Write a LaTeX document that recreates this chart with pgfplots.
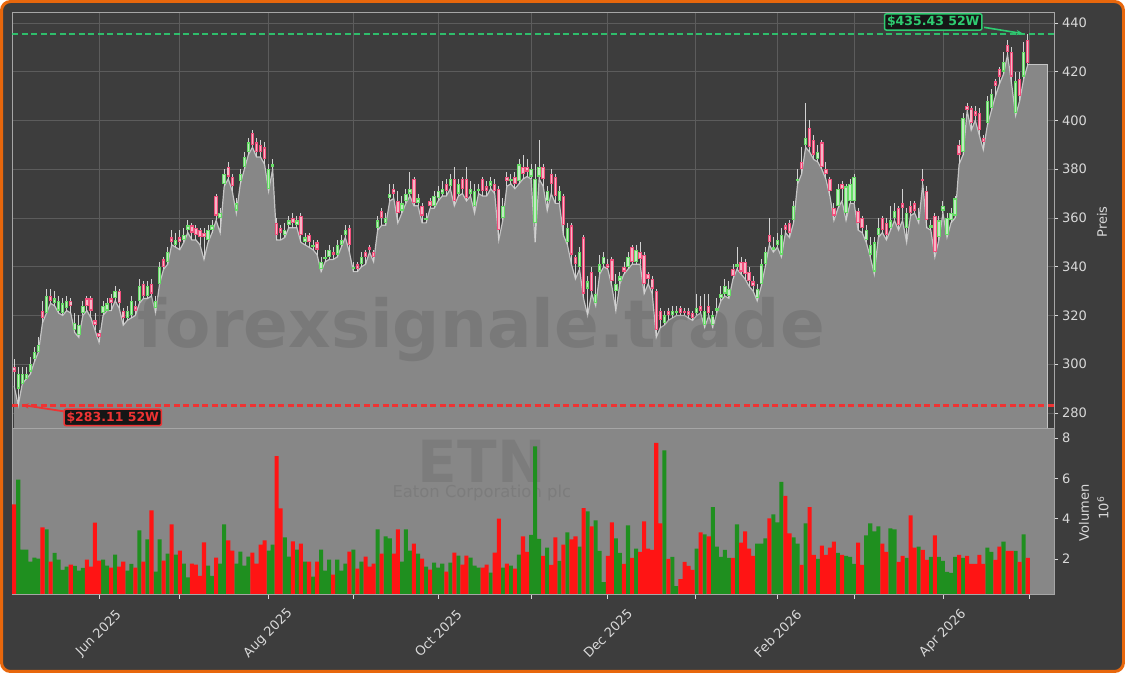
\documentclass[border=0pt]{standalone}
\usepackage{pgfplots}
\pgfplotsset{compat=1.18}
\usepackage{pgfplotstable}
\usetikzlibrary{arrows.meta}
\usepackage{fontspec}
\setmainfont{DejaVu Sans}

\definecolor{bgdark}{HTML}{3D3D3D}
\definecolor{gridcol}{HTML}{5C5C5C}
\definecolor{areacol}{HTML}{878787}
\definecolor{arealine}{HTML}{C4C4C4}
\definecolor{wickcol}{HTML}{D2D2D2}
\definecolor{upedge}{HTML}{66DC66}
\definecolor{upfill}{HTML}{C2EAC2}
\definecolor{dnedge}{HTML}{F24F7C}
\definecolor{dnfill}{HTML}{F5B6C6}
\definecolor{vgreen}{HTML}{1F8F1F}
\definecolor{vred}{HTML}{FF1414}
\definecolor{higreen}{HTML}{2ECC71}
\definecolor{lored}{HTML}{EE3333}
\definecolor{tickcol}{HTML}{D9D9D9}
\definecolor{framecol}{HTML}{A6A6A6}
\definecolor{brdorange}{HTML}{E8670C}
\definecolor{boxfill}{HTML}{161616}

% i = trading day (0 = 1 May 2025), l h o c in USD, v in millions, d = 1 up / 0 down
\pgfplotstableread{
i l o c h v d
0 291 299 297 302 4.71 0
1 283.11 290 296 299 5.94 1
2 292 292 296 299 2.47 1
3 294 294 296 299 2.47 1
4 296 297 300 303 1.87 1
5 301 302 305 307 2.07 1
6 305 305 308 311 2.02 1
7 317 322 319 326 3.57 0
8 321 321 328 331 3.47 1
9 325 328 326 331 1.87 0
10 324 325 327 330 2.31 1
11 321 322 326 328 1.97 1
12 320 321 325 327 1.46 1
13 322 323 326 328 1.62 1
14 321 326 324 327 1.72 0
15 313 314 317 321 1.66 1
16 311 312 316 320 1.42 1
17 320 321 324 326 1.56 1
18 322 327 324 328 1.97 0
19 319 327 322 328 1.62 0
20 314 318 316 321 3.81 0
21 309 313 311 314 1.92 0
22 320 321 324 326 1.97 1
23 322 322 325 327 1.67 1
24 322 327 325 329 1.57 0
25 326 327 330 332 2.22 1
26 323 330 325 331 1.62 0
27 316 322 319 323 1.87 0
28 318 319 322 324 1.42 1
29 319 320 326 328 1.76 1
30 320 324 322 326 1.57 0
31 325 326 332 335 3.42 1
32 327 333 328 334 1.87 0
33 327 328 332 334 2.97 1
34 328 333 329 335 4.41 0
35 321 323 326 328 1.37 1
36 333 333 340 342 2.97 1
37 339 343 340 344 1.92 0
38 341 342 346 348 2.27 1
39 349 352 350 355 3.72 0
40 348 349 351 354 2.22 1
41 347 352 350 355 2.42 0
42 350 351 353 356 1.77 1
43 354 355 357 359 1.09 1
44 351 357 354 358 1.77 0
45 351 356 353 357 1.72 0
46 349 355 352 356 1.17 0
47 343 354 352 356 2.82 0
48 350 351 355 357 1.67 1
49 354 355 357 359 1.17 1
50 359 369 361 370 2.07 0
51 354 360 362 364 1.77 1
52 373 374 378 380 3.72 1
53 376 381 377 383 2.92 0
54 371 377 373 378 2.42 0
55 362 363 366 368 1.77 1
56 374 375 378 380 2.37 1
57 380 381 385 387 1.67 1
58 386 387 391 393 2.12 1
59 389 395 390 396 2.32 0
60 385 391 387 393 1.77 0
61 385 390 387 392 2.72 0
62 382 389 384 391 2.92 0
63 371 372 380 382 2.42 1
64 380 381 382 384 2.72 1
65 351 358 353 360 7.10 0
66 351 356 354 357 4.51 0
67 352 353 355 358 3.07 1
68 356 357 359 361 2.12 1
69 356 360 358 362 2.87 0
70 356 357 359 361 2.47 1
71 350 361 353 362 2.77 0
72 349 350 352 354 1.87 1
73 348 353 350 354 1.87 0
74 347 348 349 351 1.13 1
75 345 350 347 351 1.87 0
76 338 339 342 344 2.47 1
77 342 343 344 347 1.42 1
78 343 344 347 349 1.97 1
79 343 346 345 348 1.23 0
80 344 345 349 351 1.97 1
81 348 349 351 353 1.42 1
82 352 353 355 357 1.77 1
83 346 356 349 357 2.37 0
84 338 339 340 342 2.47 1
85 338 341 339 342 1.53 0
86 340 341 344 346 1.87 1
87 341 346 344 347 2.12 0
88 346 348 347 349 1.62 0
89 342 346 344 347 1.77 0
90 355 356 359 361 3.47 1
91 357 363 360 364 2.27 0
92 357 358 360 362 3.12 1
93 367 368 370 374 3.02 1
94 368 372 370 374 2.27 0
95 358 367 362 371 3.47 0
96 362 363 366 369 1.87 1
97 366 367 370 372 3.47 1
98 369 370 372 379 2.42 1
99 365 376 366 377 2.77 0
100 365 366 368 370 2.27 1
101 358 365 361 366 2.02 0
102 358 359 360 362 1.62 1
103 364 367 365 368 1.48 0
104 364 365 369 371 1.82 1
105 367 368 371 373 1.57 1
106 369 370 372 375 1.77 1
107 369 374 371 376 1.37 0
108 372 373 376 378 1.82 1
109 365 376 367 381 2.32 0
110 369 370 374 376 2.17 1
111 370 376 372 377 1.72 0
112 367 376 368 381 2.17 0
113 369 370 372 375 2.07 1
114 362 365 371 374 1.67 1
115 370 371 372 374 1.57 1
116 369 376 371 377 1.57 0
117 369 373 371 375 1.72 0
118 372 373 375 377 1.33 1
119 370 374 371 376 2.32 0
120 351 372 355 373 4.01 0
121 359 360 365 368 1.57 1
122 373 377 375 379 1.77 0
123 374 375 376 378 1.67 1
124 372 377 374 379 1.53 0
125 374 375 382 384 2.22 1
126 376 381 378 386 3.12 0
127 377 381 379 384 2.36 0
128 376 377 380 382 3.20 1
129 350 358 376 382 7.59 1
130 376 377 381 392 3.00 1
131 373 381 376 382 2.16 0
132 363 367 371 373 2.56 1
133 370 378 374 380 1.71 0
134 366 377 369 378 3.07 0
135 366 367 371 373 1.91 1
136 353 369 357 370 2.71 0
137 349 350 356 358 3.32 1
138 341 357 345 358 2.97 0
139 335 344 341 345 3.12 0
140 339 340 346 348 2.61 1
141 327 352 329 353 4.53 0
142 320 331 334 336 4.37 1
143 329 338 330 340 3.62 0
144 324 325 329 336 3.92 1
145 337 338 341 345 2.41 1
146 340 341 344 346 0.85 1
147 339 341 339.5 343 2.16 0
148 332 343 334 344 3.82 0
149 322 330 333 337 3.02 1
150 333 334 336 338 2.31 1
151 337 340 338 342 1.76 0
152 339 340 344 346 3.67 1
153 341 348 342 349 2.06 0
154 341 342 347 349 2.51 1
155 341 346 343 350 2.36 0
156 329 345 333 346 3.87 0
157 333 337 335 338 2.51 0
158 329 335 331 336 2.46 0
159 311 330 314 331 7.76 0
160 315 322 318 323 3.77 0
161 316 317 320 322 7.39 1
162 318 322 320 323 2.01 0
163 319 320 322 324 2.11 1
164 320 321 322 324 0.65 1
165 320 323 321 324 1.00 0
166 320 322 321 323 1.86 0
167 319 322 320 323 1.66 0
168 318 321 319 322 1.46 0
169 320 321 323 329 2.51 1
170 321 324 322 328 3.32 0
171 315 316 322 329 3.22 1
172 320 324 321 329 3.12 0
173 315 316 320 322 4.57 1
174 321 322 323 327 2.61 1
175 326 327 329 332 2.11 1
176 328 329 332 335 2.46 1
177 327 328 331 334 2.06 1
178 335 339 336 341 2.06 0
179 339 340 341 348 3.72 1
180 337 342 338 344 2.81 0
181 335 342 337 343 3.37 0
182 332 338 334 340 2.51 0
183 330 334 332 336 2.16 0
184 326 327 331 333 2.77 1
185 332 333 341 343 2.77 1
186 340 341 346 348 3.02 1
187 349 353 350 360 4.02 0
188 346 347 348 352 4.22 1
189 348 349 351 354 3.82 1
190 344 345 353 356 5.83 1
191 354 357 355 358 5.13 0
192 352 358 354 359 3.27 0
193 358 359 365 367 3.07 1
194 374 375 376 380 2.77 1
195 378 383 380 389 1.71 0
196 389 390 393 407 3.77 1
197 387 397 389 400 4.57 0
198 384 392 386 394 2.21 0
199 383 384 387 390 2.01 1
200 380 391 381 392 2.66 0
201 376 380 378 383 2.21 0
202 369 376 371 377 2.56 0
203 359 364 361 366 2.86 0
204 364 365 372 374 2.31 1
205 367 374 372 375 2.21 0
206 359 362 373 374 2.16 1
207 366 367 374 376 2.11 1
208 366 367 377 378 1.76 1
209 355 363 358 364 2.81 0
210 354 360 356 361 1.71 0
211 350 351 355 357 3.17 1
212 344 345 349 352 3.77 1
213 337 338 350 352 3.37 1
214 352 353 356 360 3.62 1
215 354 360 355 361 2.77 0
216 351 358 353 360 2.36 0
217 355 356 359 365 3.52 1
218 359 360 363 366 3.47 1
219 355 364 357 365 1.86 0
220 359 366 364 372 2.16 0
221 350 356 362 364 2.06 1
222 361 365 362 367 4.17 0
223 362 366 363 367 2.56 0
224 358 359 360 364 2.61 1
225 374 376 375 380 2.46 0
226 356 371 359 373 1.96 0
227 355 356 357 359 2.11 1
228 344 361 346 362 3.17 0
229 351 352 359 361 2.11 1
230 362 363 365 367 1.91 1
231 352 353 360 362 1.36 1
232 358 359 362 364 1.31 1
233 360 361 368 369 2.11 1
234 382 390 386 392 2.21 0
235 386 387 401 403 2.06 1
236 404 406 404.5 407 2.16 0
237 396 405 399 406 1.76 0
238 400 404 402 406 1.76 0
239 394 403 396 405 2.21 0
240 388 393 391 394 1.76 0
241 398 399 408 410 2.56 1
242 404 405 411 413 2.36 1
243 410 416 414 417 1.96 0
244 415 421 418 422 2.61 0
245 419 420 424 428 2.86 1
246 427 431 428 433 2.41 0
247 415 428 418 430 2.41 0
248 402 403 416 420 2.41 1
249 408 417 410 420 1.86 0
250 417 418 428 432 3.22 1
251 422.8 433 423.5 435.43 2.06 0
}\data

\begin{document}
\begin{tikzpicture}
\useasboundingbox (0,0) rectangle (1125bp,673bp);
\fill[white] (0,0) rectangle (1125bp,673bp);
\draw[brdorange, line width=3bp, fill=bgdark, rounded corners=9bp] (1.5bp,1.5bp) rectangle (1123.5bp,671.5bp);

\pgfplotsset{
  every axis/.append style={
    scale only axis, width=1042bp, anchor=south west,
    xmin=-0.55, xmax=257.5,
    axis line style={framecol, line width=0.8bp},
    tick align=outside, major tick length=4.5bp,
    tick style={tickcol, line width=0.8bp},
    tick label style={font=\fontsize{13bp}{15bp}\selectfont, text=tickcol},
    /pgf/number format/assume math mode=true,
    xtick={21,40.8,62.9,83.9,105,128,147,168.8,189.1,208,230,251.3},
    ytick pos=right, yticklabel pos=right,
    clip mode=individual,
  }
}

% ---------- price panel ----------
\begin{axis}[
  at={(12bp,245bp)}, height=416bp,
  ymin=273.85, ymax=444.5,
  ytick={280,300,...,440},
  axis background/.style={fill=bgdark},
  xticklabel=\empty,
  major x tick style={draw=none},
  grid=major, grid style={gridcol, line width=0.8bp},
]
\addplot[fill=areacol, draw=none] table[x=i, y=l] {\data} \closedcycle;
\addplot[fill=areacol, draw=none] coordinates {(250.7,422.8) (256,422.8)} \closedcycle;
\addplot[arealine, line width=1.2bp] table[x=i, y=l] {\data};
\addplot[arealine, line width=1bp] coordinates {(251,422.8) (256,422.8) (256,270)};

\node[anchor=base, font=\bfseries\fontsize{66bp}{70bp}\selectfont, text=black, text opacity=0.1]
  at (axis cs:115.6,306.7) {forexsignale.trade};

% 52-week lines
\draw[higreen, opacity=0.9, line width=2bp, dash pattern=on 6bp off 3.5bp] (axis cs:-0.55,435.43) -- (axis cs:257.5,435.43);
\draw[lored, line width=2.4bp, dash pattern=on 6bp off 3.5bp] (axis cs:-0.55,283.11) -- (axis cs:257.5,283.11);

% wicks
\addplot[draw=none, mark=none, forget plot,
  error bars/.cd, y dir=both, y explicit, error mark=none,
  error bar style={draw=wickcol, line width=0.9bp}]
  table[x=i, y expr={(\thisrow{h}+\thisrow{l})/2}, y error expr={(\thisrow{h}-\thisrow{l})/2}] {\data};
% up bodies
\addplot[draw=none, mark=none, forget plot,
  restrict expr to domain={\thisrow{d}}{0.5:1.5},
  error bars/.cd, y dir=both, y explicit, error mark=none,
  error bar style={draw=upedge, line width=3.4bp}]
  table[x=i, y expr={(\thisrow{o}+\thisrow{c})/2}, y error expr={abs(\thisrow{c}-\thisrow{o})/2}] {\data};
\addplot[draw=none, mark=none, forget plot,
  restrict expr to domain={\thisrow{d}}{0.5:1.5},
  error bars/.cd, y dir=both, y explicit, error mark=none,
  error bar style={draw=upfill, line width=1.5bp}]
  table[x=i, y expr={(\thisrow{o}+\thisrow{c})/2}, y error expr={abs(\thisrow{c}-\thisrow{o})/2-0.5}] {\data};
% down bodies
\addplot[draw=none, mark=none, forget plot,
  restrict expr to domain={\thisrow{d}}{-0.5:0.5},
  error bars/.cd, y dir=both, y explicit, error mark=none,
  error bar style={draw=dnedge, line width=3.4bp}]
  table[x=i, y expr={(\thisrow{o}+\thisrow{c})/2}, y error expr={abs(\thisrow{c}-\thisrow{o})/2}] {\data};
\addplot[draw=none, mark=none, forget plot,
  restrict expr to domain={\thisrow{d}}{-0.5:0.5},
  error bars/.cd, y dir=both, y explicit, error mark=none,
  error bar style={draw=dnfill, line width=1.5bp}]
  table[x=i, y expr={(\thisrow{o}+\thisrow{c})/2}, y error expr={abs(\thisrow{c}-\thisrow{o})/2-0.5}] {\data};

% 52-week annotations
\draw[higreen, line width=1.6bp, -{Stealth[length=7bp]}] (axis cs:240.2,438.2) -- (axis cs:249.9,435.6);
\node[draw=higreen, line width=1.5bp, fill=boxfill, rounded corners=2bp, inner sep=2.5bp,
  text=higreen, font=\bfseries\fontsize{12.5bp}{14bp}\selectfont] at (axis cs:227.6,440.4) {\$435.43 52W};
\draw[lored, line width=1.8bp, -{Stealth[length=7bp]}] (axis cs:12.2,280.7) -- (axis cs:1.9,283.3);
\node[draw=lored, line width=1.5bp, fill=boxfill, rounded corners=2bp, inner sep=2.5bp,
  text=lored, font=\bfseries\fontsize{12.5bp}{14bp}\selectfont] at (axis cs:24.4,278.2) {\$283.11 52W};
\end{axis}

% ---------- volume panel ----------
\begin{axis}[
  at={(12bp,79bp)}, height=166bp,
  ymin=0.265, ymax=8.5,
  ytick={2,4,6,8},
  axis background/.style={fill=areacol},
  xtick pos=left,
  xticklabels={{Jun 2025},{},{Aug 2025},{},{Oct 2025},{},{Dec 2025},{},{Feb 2026},{},{Apr 2026},{}},
  xticklabel style={yshift=-35bp, anchor=center, rotate=45},
]
\node[anchor=base, font=\bfseries\fontsize{58bp}{62bp}\selectfont, text=black, text opacity=0.08]
  at (axis cs:115.8,5.82) {ETN};
\node[anchor=base, font=\fontsize{16.4bp}{18bp}\selectfont, text=black, text opacity=0.08]
  at (axis cs:115.8,5.07) {Eaton Corporation plc};

\addplot[ybar, bar width=1, fill=vgreen, draw=none,
  restrict expr to domain={\thisrow{d}}{0.5:1.5}] table[x=i, y=v] {\data};
\addplot[ybar, bar width=1, fill=vred, draw=none,
  restrict expr to domain={\thisrow{d}}{-0.5:0.5}] table[x=i, y=v] {\data};
\end{axis}

% axis titles on the right
\node[rotate=90, text=tickcol, font=\fontsize{13bp}{15bp}\selectfont] at (1102bp,451bp) {Preis};
\node[rotate=90, text=tickcol, font=\fontsize{13bp}{15bp}\selectfont] at (1084bp,160bp) {Volumen};
\node[rotate=90, text=tickcol, font=\fontsize{13bp}{15bp}\selectfont] at (1103bp,165bp) {10\textsuperscript{6}};
\end{tikzpicture}
\end{document}
